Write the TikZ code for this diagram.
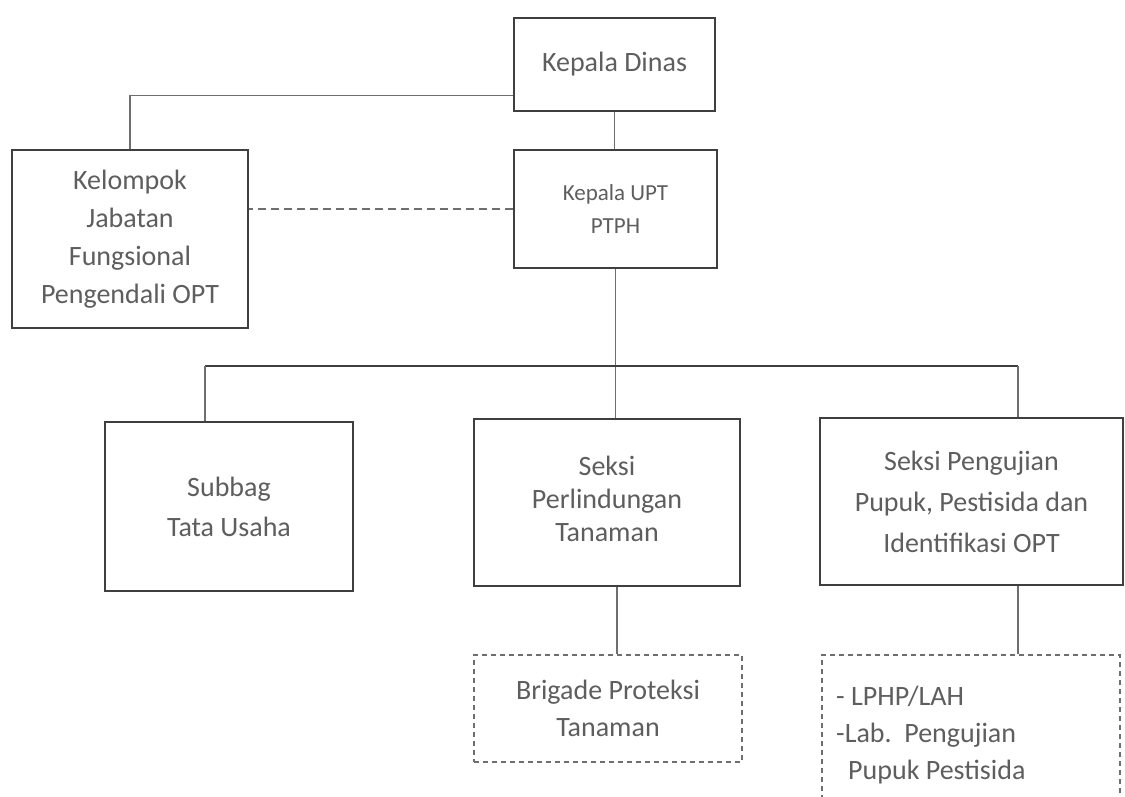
\documentclass[tikz,border=0pt]{standalone}
\usepackage{fontspec}
\setmainfont{Carlito}
\definecolor{txt}{HTML}{5E5E5E}
\definecolor{boxc}{HTML}{3F3F3F}
\definecolor{lnc}{HTML}{6E6E6E}
\begin{document}
\begin{tikzpicture}[x=1pt,y=-1pt,
  box/.style={draw=boxc,line width=2pt,inner sep=0pt,align=center,text=txt,font=\fontsize{28}{38}\selectfont},
  dbox/.style={draw=lnc,line width=1.4pt,dash pattern=on 5pt off 4pt,inner sep=0pt,text=txt,font=\fontsize{28}{37}\selectfont},
  conn/.style={draw=lnc,line width=1.6pt},
  bus/.style={draw=boxc,line width=2.2pt},
  dconn/.style={draw=lnc,line width=1.5pt,dash pattern=on 8pt off 5pt}]
\fill[white] (0,0) rectangle (1125,797);
\useasboundingbox (0,0) rectangle (1125,797);
\begin{scope}
\clip (0,0) rectangle (1125,797);
\node[box,minimum width=201pt,minimum height=93pt] (dinas) at (614.5,64.5) {Kepala Dinas};
\node[box,minimum width=203pt,minimum height=118pt,font=\fontsize{23}{33}\selectfont] (upt) at (615.5,209) {Kepala UPT\\PTPH};
\node[box,minimum width=236pt,minimum height=178pt] (kel) at (130,239) {Kelompok\\Jabatan\\Fungsional\\Pengendali OPT};
\node[box,minimum width=248pt,minimum height=169pt,font=\fontsize{28}{40}\selectfont] (sub) at (229,506.5) {Subbag\\Tata Usaha};
\node[box,minimum width=266pt,minimum height=167pt,font=\fontsize{28}{33}\selectfont,text depth=8pt] (perl) at (607,502.5) {Seksi\\Perlindungan\\Tanaman};
\node[box,minimum width=303pt,minimum height=167pt,font=\fontsize{28}{41}\selectfont] (peng) at (971.5,501.5) {Seksi Pengujian\\Pupuk, Pestisida dan\\Identifikasi OPT};
\node[dbox,align=center,minimum width=268pt,minimum height=107pt] (brig) at (608,708.5) {Brigade Proteksi\\Tanaman};
\node[dbox,minimum width=298pt,minimum height=155pt] (lab) at (971,732.5) {};
\node[text=txt,font=\fontsize{28}{37}\selectfont,anchor=north west,align=left,inner sep=0pt] (labtxt) at (836,686) {- LPHP/LAH\\-Lab.\ \ Pengujian\\\hspace*{12pt}Pupuk Pestisida};
\coordinate (busL) at (205,366);
\coordinate (busR) at (1018,366);
\draw[conn] (dinas.south) -- (dinas.south |- upt.north);
\draw[conn] ([yshift=-31pt]dinas.west) -| ([xshift=0pt]kel.north);
\draw[dconn] (upt.west) -- (upt.west -| kel.east);
\draw[conn] (upt.south) -- (upt.south |- perl.north);
\draw[bus] (busL) -- (busR);
\draw[conn] (busL) -- (busL |- sub.north);
\draw[conn] (busR) -- (busR |- peng.north);
\draw[conn] ([xshift=10pt]perl.south) -- ([xshift=10pt]perl.south |- brig.north);
\draw[conn] (peng.south -| busR) -- (lab.north -| busR);
\end{scope}
\end{tikzpicture}
\end{document}
